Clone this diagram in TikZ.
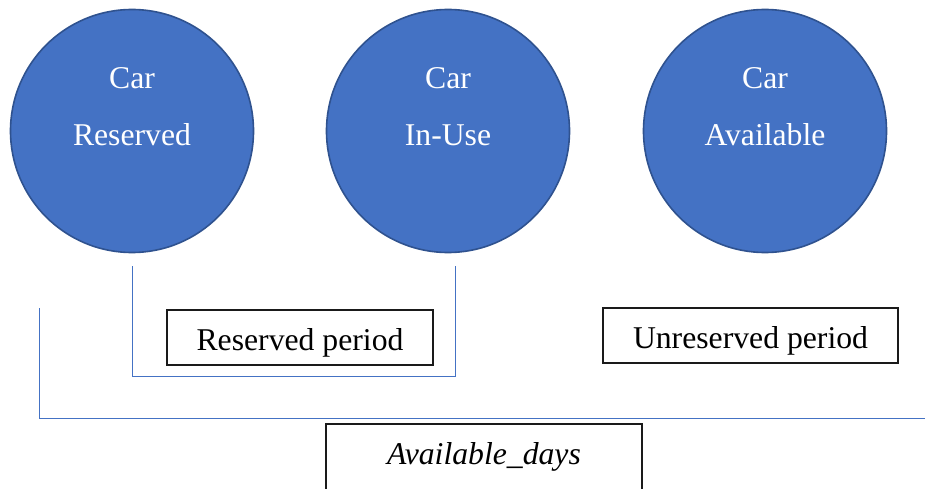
\documentclass[tikz,border=0pt]{standalone}
\usepackage{fontspec}
\setmainfont{Liberation Serif}
\definecolor{carfill}{HTML}{4472C4}
\definecolor{caredge}{HTML}{2F528F}
\definecolor{brk}{HTML}{4472C4}
\definecolor{boxedge}{HTML}{1A1A1A}
\begin{document}
\begin{tikzpicture}[x=1pt,y=-1pt,
  carstate/.style={circle, fill=carfill, draw=caredge, line width=1.6pt, minimum size=243pt, inner sep=0pt},
  cartext/.style={anchor=base, text=white, font=\fontsize{31.7}{38}\selectfont, inner sep=0pt},
  periodbox/.style={draw=boxedge, line width=1.3pt, fill=white, inner sep=0pt},
  boxtext/.style={anchor=base, font=\fontsize{31.7}{38}\selectfont, inner sep=0pt},
  bracket/.style={draw=brk, line width=1pt}]
\useasboundingbox (0,0) rectangle (925,489);
% circles
\node[carstate] (c1) at (132,131) {};
\node[carstate] (c2) at (448,131) {};
\node[carstate] (c3) at (765,131) {};
\node[cartext] (t1a) at (132,89) {Car};
\node[cartext] (t1b) at (132,146) {Reserved};
\node[cartext] (t2a) at (448,89) {Car};
\node[cartext] (t2b) at (448,146) {In-Use};
\node[cartext] (t3a) at (765,89) {Car};
\node[cartext] (t3b) at (765,146) {Available};
% brackets
\coordinate (r1) at (132,266);
\coordinate (r2) at (132,376);
\coordinate (r3) at (455,376);
\coordinate (r4) at (455,266);
\draw[bracket] (r1) -- (r2) -- (r3) -- (r4);
\coordinate (a1) at (39,308);
\coordinate (a2) at (39,418);
\coordinate (a3) at (926,418);
\draw[bracket] (a1) -- (a2) -- (a3);
% boxes
\draw[periodbox] (167,310) rectangle (433,365);
\node[boxtext] (rp) at (300,350) {Reserved period};
\draw[periodbox] (603,308) rectangle (898,363);
\node[boxtext] (up) at (750.5,348) {Unreserved period};
\draw[periodbox] (326,424) rectangle (642,500);
\node[boxtext] (ad) at (484,464) {\itshape Available\_days};
\end{tikzpicture}
\end{document}
